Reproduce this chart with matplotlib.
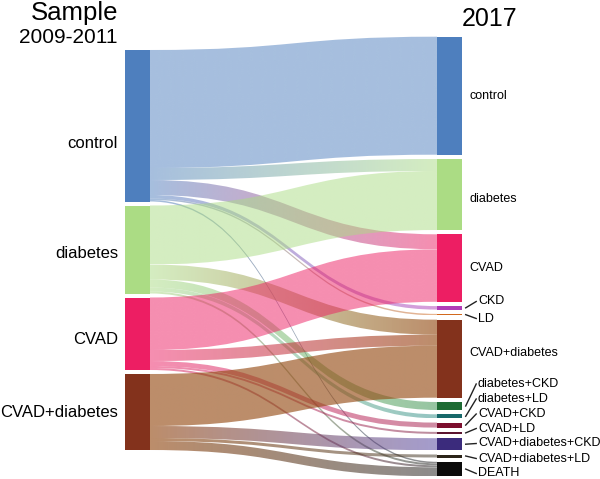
import numpy as np
import matplotlib.pyplot as plt
from matplotlib.path import Path
from matplotlib.patches import PathPatch, Rectangle
from matplotlib.colors import to_rgba

plt.rcParams['font.family'] = ['Liberation Sans', 'DejaVu Sans']

# Nodes: 2009-2011 (left) and 2017 (right)
left_names = ['control', 'diabetes', 'CVAD', 'CVAD+diabetes']
left_colors = ['#4e7fbe', '#abdc84', '#ed1e63', '#83321c']
left_link_colors = ['#4e7fbe80', '#abdc8480', '#ed1e6380', '#944912a0']

right_names = ['control', 'diabetes', 'CVAD', 'CKD', 'LD', 'CVAD+diabetes',
               'diabetes+CKD', 'diabetes+LD', 'CVAD+CKD', 'CVAD+LD',
               'CVAD+diabetes+CKD', 'CVAD+diabetes+LD', 'DEATH']
right_colors = ['#4e7fbe', '#abdc84', '#ed1e63', '#b03cb8', '#d2691e', '#83321c',
                '#1e6b34', '#17686a', '#7c0e2e', '#5c1530',
                '#3b2b7c', '#2b2418', '#0b0b0b']
right_link_colors = ['#4e7fbe80', '#abdc8480', '#ed1e6380', '#b03cb880', '#d2691e80',
                     '#944912a0', '#2e8b4480', '#2a8a8680', '#a0184880', '#7a1c4080',
                     '#4a3a9a80', '#3a302080', '#1a1a1a80']

# Links (left index -> right index, value)
link_src = [0, 0, 0, 0, 0, 0,
            1, 1, 1, 1, 1,
            2, 2, 2, 2, 2,
            3, 3, 3, 3]
link_tgt = [0, 1, 2, 3, 4, 12,
            1, 5, 6, 7, 12,
            2, 5, 8, 9, 12,
            5, 10, 11, 12]
link_val = [118, 12, 15, 3.5, 1.5, 1.5,
            59, 15, 8, 4, 2,
            52.5, 11, 5, 2, 2,
            52, 12, 3, 9]

# layout (pixel units)
xl0, xl1 = 125, 150
xr0, xr1 = 437, 462
left_top, left_gap = 50, 4
right_top, right_gap = 36.7, 4.3

left_tot = np.zeros(len(left_names))
right_tot = np.zeros(len(right_names))
for s, t, v in zip(link_src, link_tgt, link_val):
    left_tot[s] += v
    right_tot[t] += v


def stack(totals, top, gap):
    ys = []
    y = top
    for tot in totals:
        ys.append(y)
        y += tot + gap
    return np.array(ys)


left_y = stack(left_tot, left_top, left_gap)
right_y = stack(right_tot, right_top, right_gap)

fig = plt.figure(figsize=(6, 4.79), dpi=100)
ax = fig.add_axes([0, 0, 1, 1])

# links: ordered by target at the source, by source at the target
src_off = left_y.copy()
order_s = sorted(range(len(link_val)), key=lambda i: (link_src[i], link_tgt[i]))
start = {}
for i in order_s:
    start[i] = src_off[link_src[i]]
    src_off[link_src[i]] += link_val[i]
tgt_off = right_y.copy()
order_t = sorted(range(len(link_val)), key=lambda i: (link_tgt[i], link_src[i]))
end = {}
for i in order_t:
    end[i] = tgt_off[link_tgt[i]]
    tgt_off[link_tgt[i]] += link_val[i]

xm = (xl1 + xr0) / 2
for i in range(len(link_val)):
    v = link_val[i]
    sy0, ty0 = start[i], end[i]
    sy1, ty1 = sy0 + v, ty0 + v
    verts = [(xl1, sy0), (xm, sy0), (xm, ty0), (xr0, ty0),
             (xr0, ty1), (xm, ty1), (xm, sy1), (xl1, sy1), (xl1, sy0)]
    codes = [Path.MOVETO, Path.CURVE4, Path.CURVE4, Path.CURVE4,
             Path.LINETO, Path.CURVE4, Path.CURVE4, Path.CURVE4, Path.CLOSEPOLY]
    patch = PathPatch(Path(verts, codes), transform=ax.transData)
    c0 = np.array(to_rgba(left_link_colors[link_src[i]]))
    c1 = np.array(to_rgba(right_link_colors[link_tgt[i]]))
    f = np.linspace(0, 1, 256)[:, None]
    grad = np.zeros((1, 256, 4))
    grad[0] = c0 * (1 - f) + c1 * f
    im = ax.imshow(grad, extent=[xl1, xr0, max(sy1, ty1), min(sy0, ty0)],
                   aspect='auto', interpolation='bilinear', zorder=1)
    im.set_clip_path(patch)

# nodes
for k, name in enumerate(left_names):
    ax.add_patch(Rectangle((xl0, left_y[k]), xl1 - xl0, left_tot[k],
                           color=left_colors[k], lw=0, zorder=3))
for k, name in enumerate(right_names):
    ax.add_patch(Rectangle((xr0, right_y[k]), xr1 - xr0, right_tot[k],
                           color=right_colors[k], lw=0, zorder=3))

# left labels
left_label_y = [143, 253, 339, 412.7]
for k, name in enumerate(left_names):
    ax.text(118, left_label_y[k], name, ha='right', va='center', fontsize=12)

# right labels, small ones nudged with leader lines
right_label_y = {'control': 96, 'diabetes': 199, 'CVAD': 268, 'CVAD+diabetes': 353,
                 'CKD': 301.5, 'LD': 318.5, 'diabetes+CKD': 384, 'diabetes+LD': 399,
                 'CVAD+CKD': 414, 'CVAD+LD': 428.5, 'CVAD+diabetes+CKD': 443.5,
                 'CVAD+diabetes+LD': 458.5, 'DEATH': 473.5}
big = ['control', 'diabetes', 'CVAD', 'CVAD+diabetes']
for k, name in enumerate(right_names):
    ly = right_label_y[name]
    if name in big:
        ax.text(469, ly, name, ha='left', va='center', fontsize=9)
    else:
        cy = right_y[k] + right_tot[k] / 2
        ax.plot([465.7, 476.2], [cy, ly], color='#222222', lw=1, zorder=4)
        ax.text(478, ly, name, ha='left', va='center', fontsize=9)

ax.text(118, 13, 'Sample', ha='right', va='center', fontsize=18.5)
ax.text(118, 37, '2009-2011', ha='right', va='center', fontsize=15)
ax.text(490, 19, '2017', ha='center', va='center', fontsize=18)

ax.set_xlim(0, 600)
ax.set_ylim(479, 0)
ax.axis('off')
fig.savefig('out.png', dpi=100)
